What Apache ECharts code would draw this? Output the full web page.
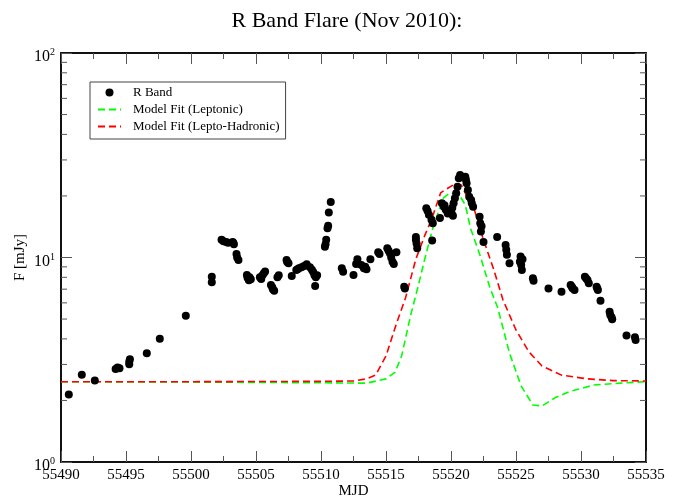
<!DOCTYPE html>
<html>
<head>
<meta charset="utf-8">
<script src="https://cdn.jsdelivr.net/npm/echarts@6/dist/echarts.min.js"></script>
<style>
  html, body { margin: 0; padding: 0; background: #fff; }
  #chart { width: 694px; height: 500px; }
</style>
</head>
<body>
<div id="chart"></div>
<script>
  // R band photometry (MJD, mJy)
  var rMjd = [
    55490.6, 55491.6, 55492.6, 55494.2, 55494.35, 55494.5, 55495.25, 55495.25, 55495.3, 55496.6,
    55497.6, 55499.6, 55501.6, 55501.6, 55502.35, 55502.5, 55502.7, 55502.85, 55503.2, 55503.3,
    55503.25, 55503.5, 55503.55, 55503.65, 55504.3, 55504.35, 55504.5, 55504.6, 55504.45, 55505.3,
    55505.4, 55505.5, 55505.6, 55505.7, 55506.15, 55506.25, 55506.3, 55506.4, 55506.65, 55506.75,
    55507.35, 55507.4, 55507.5, 55507.75, 55508.1, 55508.3, 55508.5, 55508.7, 55508.9, 55508.2,
    55509.15, 55509.3, 55509.4, 55509.5, 55509.6, 55509.7, 55509.55, 55510.3, 55510.35, 55510.4,
    55510.5, 55510.55, 55510.6, 55510.75, 55511.6, 55511.7, 55512.5, 55512.7, 55512.8, 55513.1,
    55513.3, 55513.4, 55513.5, 55513.8, 55514.4, 55514.5, 55515.1, 55515.2, 55515.3, 55515.4,
    55515.5, 55515.6, 55515.8, 55516.4, 55516.45, 55517.3, 55517.3, 55517.35, 55517.4, 55518.1,
    55518.2, 55518.3, 55518.5, 55518.6, 55518.55, 55519.15, 55519.3, 55519.45, 55519.6, 55519.75,
    55519.5, 55520.05, 55520.1, 55520.2, 55520.3, 55520.4, 55520.5, 55520.6, 55520.7, 55520.15,
    55521.1, 55521.15, 55521.2, 55521.3, 55521.4, 55521.55, 55521.6, 55521.7, 55522.2, 55522.25,
    55522.3, 55522.35, 55522.5, 55523.55, 55524.2, 55524.25, 55524.3, 55524.5, 55525.3, 55525.35,
    55525.4, 55525.45, 55525.5, 55526.3, 55526.35, 55527.5, 55528.5, 55529.2, 55529.3, 55529.35,
    55529.5, 55530.3, 55530.4, 55530.5, 55530.6, 55531.2, 55531.3, 55531.25, 55531.5, 55532.2,
    55532.25, 55532.35, 55532.4, 55533.5, 55534.15, 55534.2
  ];
  var rFlux = [
    2.14, 2.67, 2.50, 2.85, 2.90, 2.87, 3.01, 3.09, 3.18, 3.40,
    4.01, 5.19, 8.06, 7.56, 12.2, 12.0, 11.9, 11.8, 11.9, 11.6,
    11.8, 10.4, 10.0, 9.72, 8.21, 7.95, 8.0, 7.82, 7.75, 8.0,
    7.85, 8.2, 8.37, 8.53, 7.34, 7.15, 7.0, 6.88, 8.0, 8.2,
    9.72, 9.5, 9.37, 8.12, 8.69, 8.85, 8.96, 9.09, 9.26, 8.75,
    8.96, 8.7, 8.5, 8.2, 8.0, 8.2, 7.25, 11.3, 11.6, 12.2,
    13.9, 14.3, 16.6, 18.7, 8.86, 8.52, 8.21, 9.29, 9.8, 9.19,
    8.86, 9.0, 8.75, 9.8, 10.6, 10.4, 11.1, 10.8, 10.5, 10.0,
    9.54, 9.29, 10.6, 7.2, 7.05, 12.6, 12.2, 11.7, 11.1, 17.4,
    16.9, 16.2, 15.3, 14.7, 12.1, 15.6, 18.4, 17.7, 17.1, 16.4,
    18.0, 16.4, 17.5, 18.4, 19.5, 20.6, 22.2, 24.4, 25.3, 16.0,
    24.8, 24.0, 23.1, 21.4, 19.8, 19.1, 18.4, 17.7, 15.8, 14.7,
    13.4, 14.2, 11.9, 12.6, 11.5, 10.9, 10.3, 9.37, 9.54, 10.1,
    9.19, 8.69, 9.8, 7.91, 7.7, 7.05, 6.80, 7.34, 7.2, 7.07,
    6.93, 8.05, 7.9, 7.77, 7.48, 7.2, 6.93, 7.05, 6.15, 5.43,
    5.23, 5.1, 4.99, 4.15, 4.07, 3.95
  ];

  // leptonic model
  var lepMjd = [55490, 55500, 55510, 55513.5, 55515.0, 55515.7, 55516.2, 55516.9, 55517.4, 55518.0,
    55518.6, 55519.4, 55519.9, 55520.6, 55521.1, 55521.5, 55522.2, 55523.0, 55523.6, 55524.5,
    55525.4, 55526.3, 55527.0, 55528.0, 55529.1, 55531.0, 55533.0, 55535];
  var lepFlux = [2.47, 2.46, 2.44, 2.43, 2.55, 2.75, 3.30, 5.23, 6.93, 9.94,
    13.9, 19.5, 20.7, 20.4, 18.1, 13.9, 10.4, 7.10, 5.66, 3.41,
    2.35, 1.90, 1.88, 2.06, 2.21, 2.38, 2.43, 2.47];

  // lepto-hadronic model
  var hadMjd = [55490, 55500, 55510, 55512.5, 55513.5, 55514.2, 55515.0, 55515.8, 55516.5, 55517.3,
    55518.0, 55518.5, 55519.2, 55519.6, 55520.3, 55520.8, 55521.3, 55521.8, 55522.5, 55523.3,
    55524.0, 55525.0, 55526.0, 55527.0, 55528.5, 55530.5, 55532.5, 55535];
  var hadFlux = [2.47, 2.47, 2.48, 2.49, 2.55, 2.66, 3.30, 4.74, 6.34, 9.84,
    12.9, 15.3, 20.7, 21.5, 22.9, 22.6, 19.5, 17.1, 12.2, 8.69,
    6.20, 4.42, 3.45, 2.95, 2.66, 2.55, 2.50, 2.49];

  // minor ticks of the log axis
  var minorVals = [2, 3, 4, 5, 6, 7, 8, 9, 20, 30, 40, 50, 60, 70, 80, 90];

  var xMin = 55490, xMax = 55535;
  var serif = "Liberation Serif";

  function zip(a, b) {
    return a.map(function (v, i) { return [v, b[i]]; });
  }

  var chart = echarts.init(document.getElementById("chart"));

  var xCommon = {
    type: "value",
    min: xMin,
    max: xMax,
    interval: 5,
    axisLine: { show: true, onZero: false, lineStyle: { color: "#111", width: 2 } },
    axisTick: { show: true, inside: true, length: 11, lineStyle: { color: "#555" } },
    minorTick: { show: true, splitNumber: 2, length: 6, lineStyle: { color: "#555" } },
    splitLine: { show: false }
  };
  var yCommon = {
    type: "log",
    logBase: 10,
    min: 1,
    max: 100,
    axisLine: { show: true, onZero: false, lineStyle: { color: "#111", width: 2 } },
    axisTick: { show: true, inside: true, length: 11, lineStyle: { color: "#555" } },
    minorTick: { show: false },
    splitLine: { show: false }
  };

  chart.setOption({
    animation: false,
    backgroundColor: "#fff",
    title: {
      text: "R Band Flare (Nov 2010):",
      left: "center",
      top: 5,
      textStyle: { fontFamily: serif, fontSize: 22, fontWeight: "normal", color: "#000" }
    },
    grid: { left: 61, right: 48, top: 53, bottom: 38, outerBoundsMode: "none" },
    legend: {
      orient: "vertical",
      left: 90,
      top: 82,
      padding: [3, 6, 5, 7],
      itemGap: 2,
      itemWidth: 23,
      itemHeight: 8,
      borderColor: "#444",
      borderWidth: 1,
      textStyle: { fontFamily: serif, fontSize: 13, color: "#000", lineHeight: 15, padding: [0, 0, 0, 7] },
      data: [
        { name: "R Band", itemStyle: { opacity: 1 } },
        { name: "Model Fit (Leptonic)", itemStyle: { opacity: 0 } },
        { name: "Model Fit (Lepto-Hadronic)", itemStyle: { opacity: 0 } }
      ]
    },
    xAxis: [
      Object.assign({}, xCommon, {
        position: "bottom",
        name: "MJD",
        nameLocation: "middle",
        nameGap: 22,
        nameMoveOverlap: false,
        nameTextStyle: { fontFamily: serif, fontSize: 15, color: "#000" },
        axisLabel: {
          margin: 6, fontFamily: serif, fontSize: 15, color: "#000",
          formatter: function (v) { return String(v); }
        }
      }),
      Object.assign({}, xCommon, { position: "top", axisLabel: { show: false } })
    ],
    yAxis: [
      Object.assign({}, yCommon, {
        position: "left",
        name: "F [mJy]",
        nameLocation: "middle",
        nameGap: 33,
        nameMoveOverlap: false,
        nameTextStyle: { fontFamily: serif, fontSize: 15, color: "#000" },
        axisLabel: {
          margin: 6,
          padding: [8, 0, 0, 0],
          formatter: function (v) {
            return "{b|10}{e|" + Math.round(Math.log10(v)) + "}";
          },
          rich: {
            b: { fontFamily: serif, fontSize: 16, color: "#000" },
            e: { fontFamily: serif, fontSize: 10, color: "#000", verticalAlign: "bottom", padding: [0, 0, 9, 0] }
          }
        }
      }),
      Object.assign({}, yCommon, { position: "right", axisLabel: { show: false } })
    ],
    series: [
      {
        name: "Model Fit (Leptonic)",
        type: "line",
        symbol: "none",
        itemStyle: { color: "#00ff00" },
        lineStyle: { color: "#00ff00", width: 1.6, type: [7, 4] },
        data: zip(lepMjd, lepFlux),
        z: 2
      },
      {
        name: "Model Fit (Lepto-Hadronic)",
        type: "line",
        symbol: "none",
        itemStyle: { color: "#ff0000" },
        lineStyle: { color: "#ff0000", width: 1.6, type: [7, 4] },
        data: zip(hadMjd, hadFlux),
        z: 3
      },
      {
        name: "R Band",
        type: "scatter",
        symbol: "circle",
        symbolSize: 8,
        itemStyle: { color: "#000", opacity: 1 },
        data: zip(rMjd, rFlux),
        z: 4
      },
      {
        // minor ticks on left and right log axes
        type: "custom",
        silent: true,
        clip: false,
        data: minorVals.map(function (v) { return [xMin, v]; }),
        renderItem: function (params, api) {
          var v = api.value(1);
          var pl = api.coord([xMin, v]);
          var pr = api.coord([xMax, v]);
          var st = { stroke: "#555", lineWidth: 1 };
          return {
            type: "group",
            children: [
              { type: "line", shape: { x1: pl[0], y1: pl[1], x2: pl[0] + 6, y2: pl[1] }, style: st },
              { type: "line", shape: { x1: pr[0], y1: pr[1], x2: pr[0] - 6, y2: pr[1] }, style: st }
            ]
          };
        },
        z: 1
      }
    ]
  });
</script>
</body>
</html>
